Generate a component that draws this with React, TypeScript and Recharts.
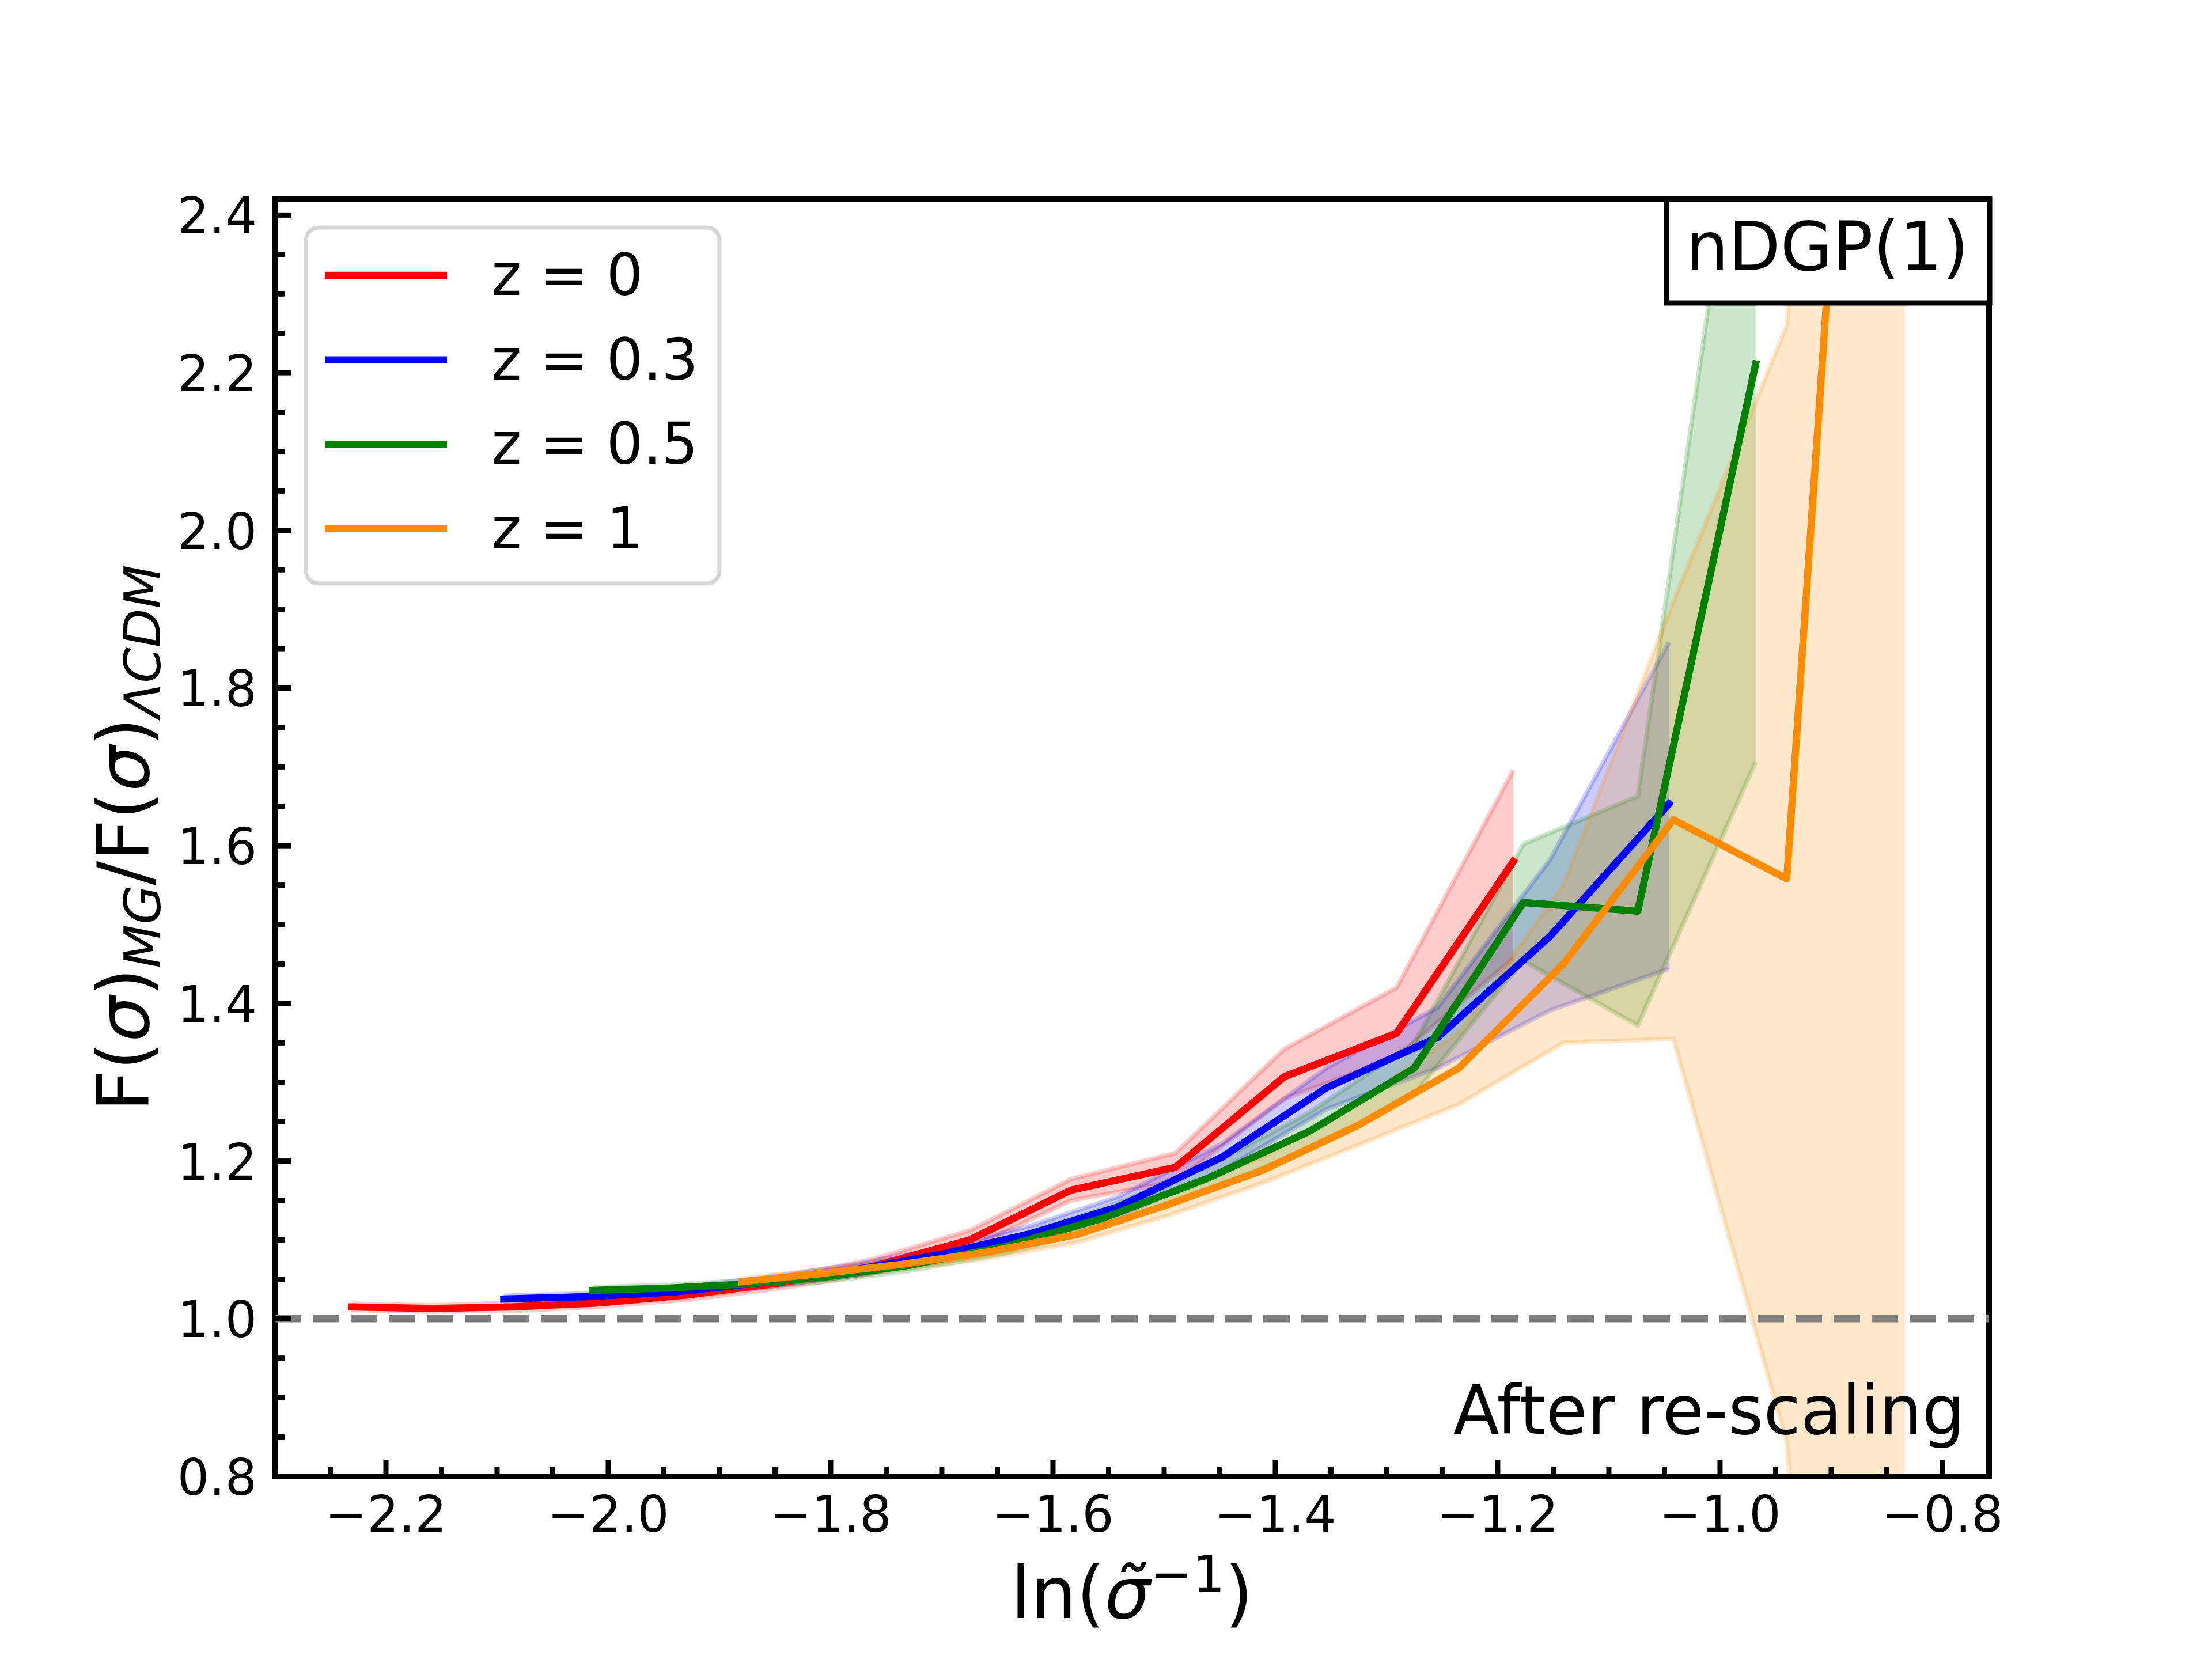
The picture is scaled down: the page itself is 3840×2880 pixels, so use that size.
import React from "react";
import {
  Area,
  ComposedChart,
  Line,
  ReferenceArea,
  ReferenceLine,
  XAxis,
  YAxis,
} from "recharts";

const FONT = '"DejaVu Sans", sans-serif';

// tick labels
const xMajor = [-2.2, -2.0, -1.8, -1.6, -1.4, -1.2, -1.0, -0.8];
const yMajor = [0.8, 1.0, 1.2, 1.4, 1.6, 1.8, 2.0, 2.2, 2.4];

// z = 0
const redX = [-2.231, -2.158, -2.086, -2.01, -1.93, -1.848, -1.763, -1.675, -1.584, -1.49, -1.392, -1.291, -1.186];
const redY = [1.015, 1.013, 1.015, 1.02, 1.03, 1.045, 1.066, 1.1, 1.163, 1.192, 1.307, 1.362, 1.58];
const redLo = [1.011, 1.009, 1.01, 1.015, 1.024, 1.038, 1.057, 1.089, 1.15, 1.174, 1.279, 1.332, 1.457];
const redHi = [1.019, 1.017, 1.02, 1.025, 1.036, 1.052, 1.075, 1.112, 1.177, 1.21, 1.342, 1.42, 1.696];

// z = 0.3
const blueX = [-2.094, -2.018, -1.94, -1.86, -1.778, -1.7, -1.62, -1.541, -1.448, -1.354, -1.254, -1.153, -1.046];
const blueY = [1.025, 1.028, 1.034, 1.046, 1.062, 1.082, 1.108, 1.142, 1.205, 1.293, 1.357, 1.485, 1.653];
const blueLo = [1.021, 1.024, 1.029, 1.04, 1.055, 1.074, 1.098, 1.13, 1.188, 1.266, 1.318, 1.391, 1.444];
const blueHi = [1.029, 1.032, 1.039, 1.052, 1.069, 1.09, 1.118, 1.155, 1.222, 1.318, 1.395, 1.582, 1.858];

// z = 0.5
const greenX = [-2.014, -1.945, -1.875, -1.805, -1.728, -1.642, -1.554, -1.461, -1.369, -1.275, -1.177, -1.074, -0.968];
const greenY = [1.036, 1.039, 1.044, 1.053, 1.068, 1.092, 1.128, 1.178, 1.238, 1.318, 1.528, 1.517, 2.211];
const greenLo = [1.032, 1.035, 1.039, 1.047, 1.061, 1.083, 1.116, 1.163, 1.215, 1.285, 1.454, 1.372, 1.706];
const greenHi = [1.04, 1.043, 1.049, 1.059, 1.075, 1.101, 1.14, 1.193, 1.262, 1.35, 1.602, 1.663, 2.7];

// z = 1
const orangeX = [-1.88, -1.81, -1.736, -1.657, -1.578, -1.496, -1.412, -1.326, -1.235, -1.141, -1.042, -0.94, -0.834];
const orangeY = [1.047, 1.057, 1.069, 1.085, 1.107, 1.145, 1.188, 1.245, 1.318, 1.45, 1.633, 1.558, 3.73];
const orangeLo = [1.043, 1.052, 1.063, 1.077, 1.097, 1.131, 1.172, 1.22, 1.272, 1.35, 1.355, 0.843, -1.2];
const orangeHi = [1.051, 1.062, 1.075, 1.093, 1.117, 1.16, 1.205, 1.272, 1.364, 1.55, 1.91, 2.26, 4.5];

const series = [
  { name: "z = 0", color: "#ff0000", x: redX, y: redY, lo: redLo, hi: redHi },
  { name: "z = 0.3", color: "#0000ff", x: blueX, y: blueY, lo: blueLo, hi: blueHi },
  { name: "z = 0.5", color: "#008000", x: greenX, y: greenY, lo: greenLo, hi: greenHi },
  { name: "z = 1", color: "#ff8c00", x: orangeX, y: orangeY, lo: orangeLo, hi: orangeHi },
];

const rows = (s: (typeof series)[number]) =>
  s.x.map((x, i) => ({ x, y: s.y[i], band: [s.lo[i], s.hi[i]] }));

// minor ticks every 0.05
const xTicks = Array.from({ length: 30 }, (_, i) => Math.round((-2.25 + i * 0.05) * 100) / 100);
const yTicks = Array.from({ length: 33 }, (_, i) => Math.round((0.8 + i * 0.05) * 100) / 100);

const isMajor = (list: number[], v: number) => list.some((m) => Math.abs(m - v) < 1e-6);
const fmt = (v: number) => v.toFixed(1).replace("-", "\u2212");

const W = 3840;
const H = 2880;

function XTick(props: any) {
  const { x, y, payload } = props;
  const major = isMajor(xMajor, payload.value);
  return (
    <g>
      <line x1={x} y1={y} x2={x} y2={y - (major ? 29 : 17)} stroke="#000" strokeWidth={9} />
      {major && (
        <text x={x} y={y + 96} textAnchor="middle" fontSize={87} fontFamily={FONT} fill="#000">
          {fmt(payload.value)}
        </text>
      )}
    </g>
  );
}

function YTick(props: any) {
  const { x, y, payload } = props;
  const major = isMajor(yMajor, payload.value);
  return (
    <g>
      <line x1={x} y1={y} x2={x + (major ? 29 : 17)} y2={y} stroke="#000" strokeWidth={9} />
      {major && (
        <text x={x - 31} y={y + 32} textAnchor="end" fontSize={87} fontFamily={FONT} fill="#000">
          {fmt(payload.value)}
        </text>
      )}
    </g>
  );
}

function Overlay() {
  return (
    <svg
      width={W}
      height={H}
      style={{ position: "absolute", left: 0, top: 0, pointerEvents: "none" }}
    >
      {/* legend */}
      <rect
        x={531}
        y={395}
        width={718}
        height={618}
        rx={22}
        fill="#fff"
        fillOpacity={0.8}
        stroke="#cccccc"
        strokeOpacity={0.8}
        strokeWidth={7}
      />
      {series.map((s, i) => {
        const cy = 478 + i * 146.7;
        return (
          <g key={s.name}>
            <line x1={564} x2={776} y1={cy} y2={cy} stroke={s.color} strokeWidth={12.5} />
            <text x={853} y={cy + 34} fontSize={100} fontFamily={FONT} fill="#000">
              {s.name}
            </text>
          </g>
        );
      })}

      {/* model box */}
      <rect x={2893} y={346} width={561} height={180} fill="#fff" stroke="#000" strokeWidth={9} />
      <text x={3172} y={469} textAnchor="middle" fontSize={117} fontFamily={FONT} fill="#000">
        nDGP(1)
      </text>

      <text x={3411} y={2489} textAnchor="end" fontSize={117} fontFamily={FONT} fill="#000">
        After re-scaling
      </text>

      {/* x label */}
      <text x={1965} y={2809} textAnchor="middle" fontSize={125} fontFamily={FONT} fill="#000">
        ln(
        <tspan fontStyle="italic">{"\u03C3\u0303"}</tspan>
        <tspan fontSize={88} dy={-46}>
          {"\u22121"}
        </tspan>
        <tspan dy={46}>)</tspan>
      </text>

      {/* y label */}
      <text
        x={258}
        y={1455}
        transform="rotate(-90 258 1455)"
        textAnchor="middle"
        fontSize={125}
        fontFamily={FONT}
        fill="#000"
      >
        F(
        <tspan fontStyle="italic">σ</tspan>)
        <tspan fontSize={88} fontStyle="italic" dy={20}>
          MG
        </tspan>
        <tspan dy={-20}>/F(</tspan>
        <tspan fontStyle="italic">σ</tspan>)
        <tspan fontSize={88} fontStyle="italic" dy={20}>
          ΛCDM
        </tspan>
      </text>
    </svg>
  );
}

export default function App() {
  return (
    <div style={{ position: "relative", width: W, height: H, background: "#fff" }}>
      <style>{"body{margin:0;background:#fff}"}</style>
      <ComposedChart width={W} height={H} margin={{ top: 346, right: 387, bottom: 0, left: 0 }}>
        <XAxis
          type="number"
          dataKey="x"
          domain={[-2.3, -0.758]}
          allowDataOverflow
          ticks={xTicks}
          interval={0}
          height={317}
          tickSize={0}
          tickMargin={0}
          axisLine={false}
          tickLine={false}
          tick={(p: any) => <XTick {...p} />}
        />
        <YAxis
          type="number"
          domain={[0.8, 2.42]}
          allowDataOverflow
          ticks={yTicks}
          interval={0}
          width={477}
          tickSize={0}
          tickMargin={0}
          axisLine={false}
          tickLine={false}
          tick={(p: any) => <YTick {...p} />}
        />
        {series.map((s) => (
          <Area
            key={`band-${s.name}`}
            data={rows(s)}
            dataKey="band"
            type="linear"
            fill={s.color}
            fillOpacity={0.2}
            stroke={s.color}
            strokeOpacity={0.2}
            strokeWidth={8}
            dot={false}
            activeDot={false}
            isAnimationActive={false}
          />
        ))}
        <ReferenceLine y={1} stroke="#808080" strokeWidth={12.5} strokeDasharray="46 20" />
        {series.map((s) => (
          <Line
            key={`line-${s.name}`}
            data={rows(s)}
            dataKey="y"
            name={s.name}
            type="linear"
            stroke={s.color}
            strokeWidth={12.5}
            strokeLinecap="square"
            strokeLinejoin="round"
            dot={false}
            activeDot={false}
            isAnimationActive={false}
          />
        ))}
        <ReferenceArea y1={0.8} y2={2.42} fill="none" stroke="#000" strokeWidth={10} />
      </ComposedChart>
      <Overlay />
    </div>
  );
}
